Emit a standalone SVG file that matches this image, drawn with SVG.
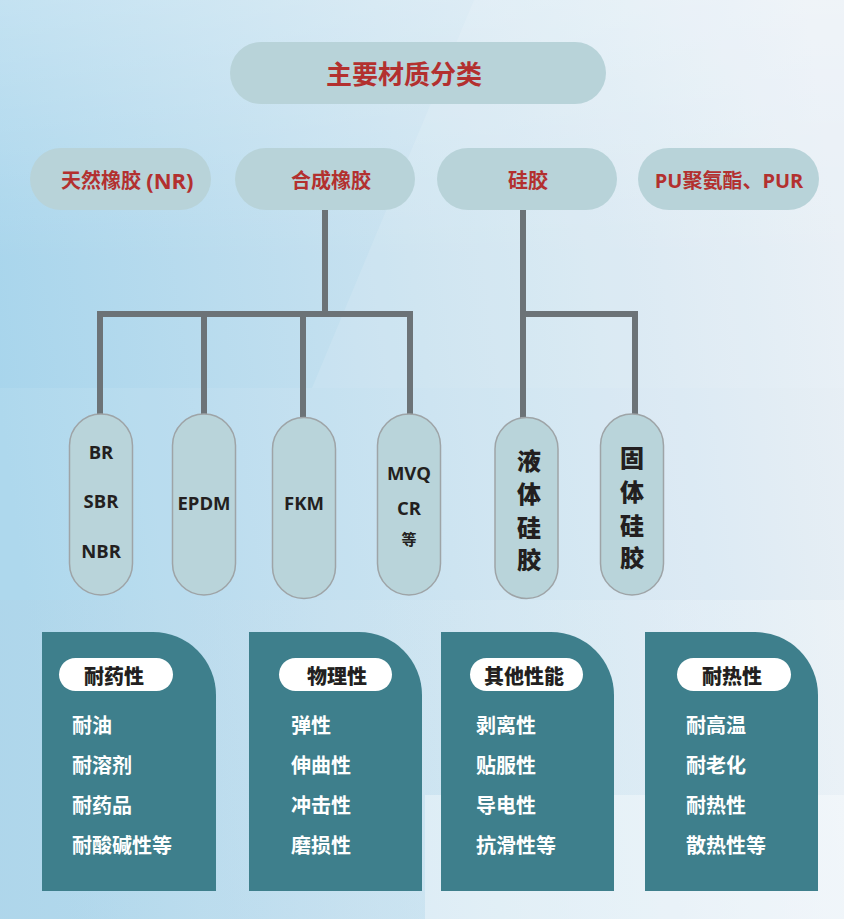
<svg xmlns="http://www.w3.org/2000/svg" width="844" height="919" viewBox="0 0 844 919">
<defs>
<linearGradient id="bg" x1="0" y1="0.45" x2="1" y2="0.3">
<stop offset="0" stop-color="#a8d5ec"/>
<stop offset="0.5" stop-color="#c9e2f0"/>
<stop offset="1" stop-color="#e6eef5"/>
</linearGradient>
<linearGradient id="topfade" x1="0" y1="0" x2="0" y2="1">
<stop offset="0" stop-color="#ffffff" stop-opacity="0.28"/>
<stop offset="1" stop-color="#ffffff" stop-opacity="0"/>
</linearGradient>
<linearGradient id="botfade" x1="0" y1="0" x2="1" y2="0">
<stop offset="0" stop-color="#b0d2e6" stop-opacity="0.5"/>
<stop offset="1" stop-color="#ffffff" stop-opacity="0.4"/>
</linearGradient>
<style>
.top{fill:#b8d3d9}
.red{fill:#b3302f;font-family:"Open Sans","Noto Sans CJK SC",sans-serif;font-weight:700;font-size:20px;dominant-baseline:central}
.cap{fill:#b9d4da;stroke:#9ea4a7;stroke-width:1.5}
.lbl{fill:#231f20;font-family:"Open Sans","Noto Sans CJK SC",sans-serif;font-weight:700;font-size:18.5px;text-anchor:middle;dominant-baseline:central}
.vl{fill:#231f20;font-family:"Noto Sans CJK SC",sans-serif;font-weight:900;font-size:24px;text-anchor:middle;dominant-baseline:central}
.card{fill:#3e7f8c}
.hp{fill:#ffffff}
.ht{fill:#231f20;font-family:"Noto Sans CJK SC",sans-serif;font-weight:900;font-size:20px;text-anchor:middle;dominant-baseline:central}
.it{fill:#ffffff;font-family:"Noto Sans CJK SC",sans-serif;font-weight:700;font-size:20px;dominant-baseline:central}
.conn{fill:none;stroke:#6c7377;stroke-width:6;stroke-linejoin:miter}
</style>
</defs>
<rect x="0" y="0" width="844" height="919" fill="url(#bg)"/>
<rect x="0" y="0" width="844" height="260" fill="url(#topfade)"/>
<polygon points="474,0 844,0 844,388 312,388" fill="#ffffff" opacity="0.12"/>
<rect x="0" y="388" width="844" height="531" fill="#ffffff" opacity="0.08"/>
<rect x="0" y="600" width="844" height="319" fill="url(#botfade)" opacity="0.6"/>
<rect x="425" y="795" width="419" height="124" fill="#ffffff" opacity="0.35"/>

<g id="connectors">
<path class="conn" d="M325,210 V314"/>
<path class="conn" d="M100,416 V314 H410 V416"/>
<path class="conn" d="M204,314 V416"/>
<path class="conn" d="M303,314 V419"/>
<path class="conn" d="M523,210 V419"/>
<path class="conn" d="M523,314 H635 V416"/>
</g>

<g id="title">
<rect class="top" x="230" y="42" width="376" height="62" rx="31"/>
<text class="red" x="404" y="74" text-anchor="middle" style="font-size:26px">主要材质分类</text>
</g>
<g id="nr">
<rect class="top" x="30" y="148" width="181" height="62" rx="31"/>
<text class="red" x="61" y="180">天然橡胶 <tspan style="font-size:22px">(NR)</tspan></text>
</g>
<g id="synthetic">
<rect class="top" x="235" y="148" width="180" height="62" rx="31"/>
<text class="red" x="331" y="180" text-anchor="middle">合成橡胶</text>
</g>
<g id="silicone">
<rect class="top" x="437" y="148" width="180" height="62" rx="31"/>
<text class="red" x="528" y="180" text-anchor="middle">硅胶</text>
</g>
<g id="pu">
<rect class="top" x="638" y="148" width="181" height="62" rx="31"/>
<text class="red" x="729" y="180" text-anchor="middle">PU聚氨酯、PUR</text>
</g>

<g id="br">
<rect class="cap" x="69.5" y="414" width="63" height="181" rx="31.5"/>
<text class="lbl" x="101" y="451">BR</text>
<text class="lbl" x="101" y="500">SBR</text>
<text class="lbl" x="101" y="550">NBR</text>
</g>
<g id="epdm">
<rect class="cap" x="172.5" y="414" width="63" height="181" rx="31.5"/>
<text class="lbl" x="204" y="502">EPDM</text>
</g>
<g id="fkm">
<rect class="cap" x="272.5" y="417.5" width="63" height="181" rx="31.5"/>
<text class="lbl" x="304" y="502">FKM</text>
</g>
<g id="mvq">
<rect class="cap" x="377.5" y="414" width="63" height="181" rx="31.5"/>
<text class="lbl" x="409" y="472">MVQ</text>
<text class="lbl" x="409" y="507">CR</text>
<text class="lbl" x="409" y="538" style="font-size:15px;font-family:'Noto Sans CJK SC',sans-serif">等</text>
</g>
<g id="liquid">
<rect class="cap" x="495" y="417.5" width="63" height="181" rx="31.5"/>
<text class="vl" x="529" y="459">液</text>
<text class="vl" x="529" y="492">体</text>
<text class="vl" x="529" y="526">硅</text>
<text class="vl" x="529" y="558">胶</text>
</g>
<g id="solid">
<rect class="cap" x="600.5" y="414" width="63" height="181" rx="31.5"/>
<text class="vl" x="632" y="456">固</text>
<text class="vl" x="632" y="490">体</text>
<text class="vl" x="632" y="524">硅</text>
<text class="vl" x="632" y="556">胶</text>
</g>

<g id="card-chem">
<path class="card" d="M42,632 H153 A63,63 0 0 1 216,695 V891 H42 Z"/>
<rect class="hp" x="59" y="658" width="114" height="33" rx="16.5"/>
<text class="ht" x="114" y="675">耐药性</text>
<text class="it" x="72" y="724">耐油</text>
<text class="it" x="72" y="764">耐溶剂</text>
<text class="it" x="72" y="804">耐药品</text>
<text class="it" x="72" y="844">耐酸碱性等</text>
</g>
<g id="card-phys">
<path class="card" d="M249,632 H359 A63,63 0 0 1 422,695 V891 H249 Z"/>
<rect class="hp" x="279" y="658" width="113" height="33" rx="16.5"/>
<text class="ht" x="337" y="675">物理性</text>
<text class="it" x="291" y="724">弹性</text>
<text class="it" x="291" y="764">伸曲性</text>
<text class="it" x="291" y="804">冲击性</text>
<text class="it" x="291" y="844">磨损性</text>
</g>
<g id="card-other">
<path class="card" d="M441,632 H551 A63,63 0 0 1 614,695 V891 H441 Z"/>
<rect class="hp" x="470" y="658" width="113" height="33" rx="16.5"/>
<text class="ht" x="524" y="675">其他性能</text>
<text class="it" x="476" y="724">剥离性</text>
<text class="it" x="476" y="764">贴服性</text>
<text class="it" x="476" y="804">导电性</text>
<text class="it" x="476" y="844">抗滑性等</text>
</g>
<g id="card-heat">
<path class="card" d="M645,632 H755 A63,63 0 0 1 818,695 V891 H645 Z"/>
<rect class="hp" x="677" y="658" width="114" height="33" rx="16.5"/>
<text class="ht" x="732" y="675">耐热性</text>
<text class="it" x="686" y="724">耐高温</text>
<text class="it" x="686" y="764">耐老化</text>
<text class="it" x="686" y="804">耐热性</text>
<text class="it" x="686" y="844">散热性等</text>
</g>
</svg>
